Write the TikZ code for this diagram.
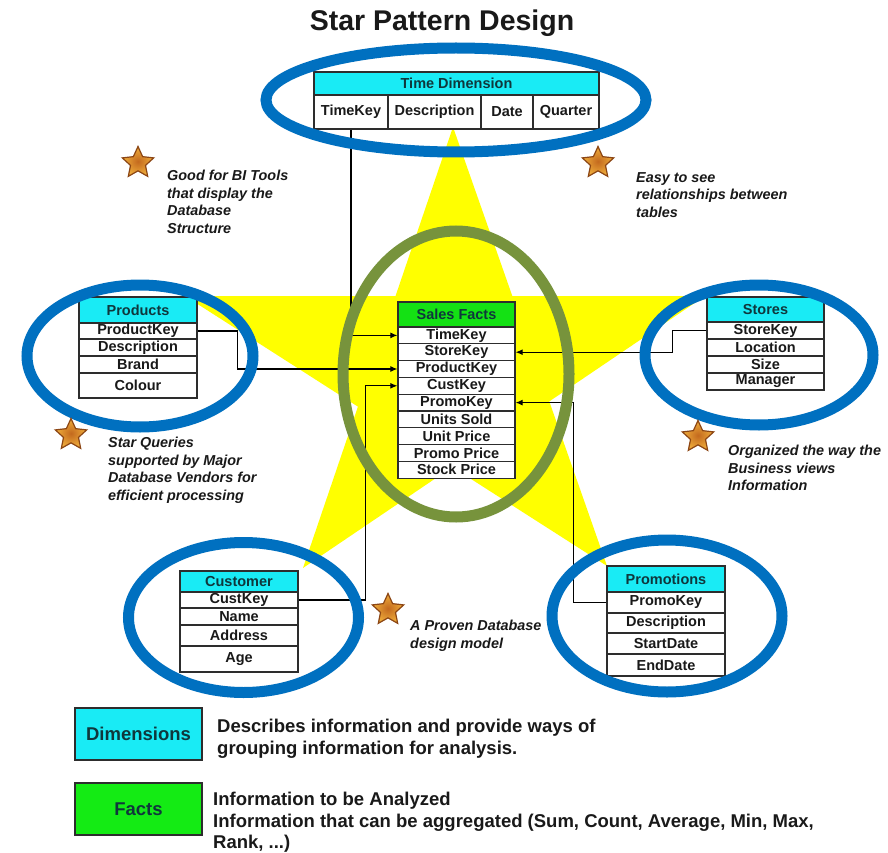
\documentclass[tikz,border=0pt]{standalone}
\usepackage{fontspec}
\setmainfont{Liberation Sans}
\usetikzlibrary{arrows.meta,shapes.geometric}
\definecolor{ringblue}{RGB}{0,112,192}
\definecolor{ringgreen}{RGB}{119,147,60}
\definecolor{dimcyan}{RGB}{25,235,245}
\definecolor{factgreen}{RGB}{20,225,20}
\definecolor{legendgreen}{RGB}{20,235,20}
\definecolor{staryellow}{RGB}{255,255,0}
\definecolor{tline}{RGB}{45,45,45}
\definecolor{ttext}{RGB}{25,25,25}
\definecolor{htext}{RGB}{15,55,60}
\definecolor{goldinner}{RGB}{195,105,30}
\definecolor{goldouter}{RGB}{240,175,60}
\definecolor{golddraw}{RGB}{140,70,20}
\begin{document}
\begin{tikzpicture}[x=1pt,y=-1pt,
  cell/.style={draw=tline, line width=1.3pt, fill=white, inner sep=0pt, font=\fontsize{14.5}{16}\selectfont\bfseries, text=ttext},
  dimhead/.style={cell, fill=dimcyan, text=htext},
  facthead/.style={cell, fill=factgreen, text=htext},
  conn/.style={draw=black, line width=1.1pt},
  arr/.style={conn, -{Latex[length=7pt,width=6pt]}},
  ring/.style={line width=11pt},
  note/.style={anchor=north west, align=left, inner sep=0pt, font=\fontsize{14.4}{17.6}\selectfont\bfseries\itshape, text=ttext},
  badge/.style={star, star points=5, star point ratio=2.1, minimum size=33pt, inner sep=0pt, inner color=goldinner, outer color=goldouter, draw=golddraw, line width=1.2pt},
  legendbox/.style={draw=tline, line width=1.8pt, minimum width=127pt, minimum height=52pt, inner sep=0pt, font=\fontsize{18.5}{20}\selectfont\bfseries, text=htext},
  legendtext/.style={anchor=north west, align=left, inner sep=0pt, font=\fontsize{18.5}{21.5}\selectfont\bfseries, text=ttext}
]
\fill[white] (0,0) rectangle (888,853);
\useasboundingbox (0,0) rectangle (888,853);

% big star
\coordinate (T) at (453,127);
\coordinate (L) at (185,296);
\coordinate (R) at (705,296);
\coordinate (BL) at (303,568);
\coordinate (BR) at (607,566);
\fill[staryellow] (T) -- (intersection of T--BR and L--R) -- (R)
  -- (intersection of R--BL and T--BR) -- (BR)
  -- (intersection of R--BL and L--BR) -- (BL)
  -- (intersection of T--BL and L--BR) -- (L)
  -- (intersection of T--BL and L--R) -- cycle;

% title
\node[font=\fontsize{28.5}{32}\selectfont\bfseries, anchor=base, text=ttext] (title) at (442,31) {Star Pattern Design};

% Time Dimension
\node[dimhead, minimum width=285pt, minimum height=23pt] (tdh) at (456.5,83.5) {Time Dimension};
\node[cell, minimum width=74pt, minimum height=34pt] (tdkey) at (351,112) {TimeKey};
\node[cell, minimum width=93pt, minimum height=34pt] (tddesc) at (434.5,112) {Description};
\node[cell, minimum width=52pt, minimum height=34pt] (tddate) at (507,112) {Date};
\node[cell, minimum width=66pt, minimum height=34pt] (tdq) at (566,112) {Quarter};

% Sales Facts
\node[facthead, minimum width=117pt, minimum height=25pt] (sfh) at (456.5,314.5) {Sales Facts};
\node[cell, minimum width=117pt, minimum height=16.8pt] (sftime) at (456.5,335.4) {TimeKey};
\node[cell, minimum width=117pt, minimum height=16.8pt] (sfstore) at (456.5,352.2) {StoreKey};
\node[cell, minimum width=117pt, minimum height=16.8pt] (sfprod) at (456.5,369.0) {ProductKey};
\node[cell, minimum width=117pt, minimum height=16.8pt] (sfcust) at (456.5,385.8) {CustKey};
\node[cell, minimum width=117pt, minimum height=16.8pt] (sfpromo) at (456.5,402.6) {PromoKey};
\node[cell, minimum width=117pt, minimum height=16.8pt] (sfunits) at (456.5,419.4) {Units Sold};
\node[cell, minimum width=117pt, minimum height=16.8pt] (sfuprice) at (456.5,436.2) {Unit Price};
\node[cell, minimum width=117pt, minimum height=16.8pt] (sfpprice) at (456.5,453.0) {Promo Price};
\node[cell, minimum width=117pt, minimum height=16.8pt] (sfsprice) at (456.5,469.8) {Stock Price};

% Products
\node[dimhead, minimum width=118pt, minimum height=26pt] (ph) at (138,310) {Products};
\node[cell, minimum width=118pt, minimum height=16pt] (pkey) at (138,331) {ProductKey};
\node[cell, minimum width=118pt, minimum height=17pt] (pdesc) at (138,347.5) {Description};
\node[cell, minimum width=118pt, minimum height=17pt] (pbrand) at (138,364.5) {Brand};
\node[cell, minimum width=118pt, minimum height=25pt] (pcol) at (138,385.5) {Colour};

% Stores
\node[dimhead, minimum width=117pt, minimum height=25pt] (sh) at (765.5,309.5) {Stores};
\node[cell, minimum width=117pt, minimum height=17pt] (stkey) at (765.5,330.5) {StoreKey};
\node[cell, minimum width=117pt, minimum height=17pt] (stloc) at (765.5,347.5) {Location};
\node[cell, minimum width=117pt, minimum height=17pt] (stsize) at (765.5,364.5) {Size};
\node[cell, minimum width=117pt, minimum height=17pt] (stman) at (765.5,381.5) {Manager};

% Customer
\node[dimhead, minimum width=118pt, minimum height=21pt] (ch) at (239,581.5) {Customer};
\node[cell, minimum width=118pt, minimum height=16pt] (ckey) at (239,600) {CustKey};
\node[cell, minimum width=118pt, minimum height=17pt] (cname) at (239,616.5) {Name};
\node[cell, minimum width=118pt, minimum height=21pt] (caddr) at (239,635.5) {Address};
\node[cell, minimum width=118pt, minimum height=26pt] (cage) at (239,659) {Age};

% Promotions
\node[dimhead, minimum width=118pt, minimum height=26pt] (prh) at (666,579) {Promotions};
\node[cell, minimum width=118pt, minimum height=21pt] (prkey) at (666,602.5) {PromoKey};
\node[cell, minimum width=118pt, minimum height=20pt] (prdesc) at (666,623) {Description};
\node[cell, minimum width=118pt, minimum height=21pt] (prstart) at (666,643.5) {StartDate};
\node[cell, minimum width=118pt, minimum height=22pt] (prend) at (666,665) {EndDate};

% connectors
\draw[arr] (tdkey.south) |- (sftime.west);
\draw[arr] (pkey.east) -- ++(40,0) |- (sfprod.west);
\draw[arr] (stkey.west) -- ++(-34,0) |- (sfstore.east);
\draw[arr] (ckey.east) -- ++(67,0) |- (sfcust.west);
\draw[arr] (prkey.west) -- ++(-33,0) |- (sfpromo.east);

% rings
\draw[ring, ringblue] (456,100) ellipse [x radius=190, y radius=52];
\draw[ring, ringblue] (140,356) ellipse [x radius=113, y radius=71];
\draw[ring, ringblue] (759,355) ellipse [x radius=114, y radius=70];
\draw[ring, ringblue] (243.5,617.5) ellipse [x radius=115, y radius=75];
\draw[ring, ringblue] (667,616) ellipse [x radius=115, y radius=76];
\draw[ring, ringgreen] (456,374) ellipse [x radius=113, y radius=143];

% badges and notes
\node[badge] (b1) at (138,163) {};
\node[badge] (b2) at (598,163) {};
\node[badge] (b3) at (71,435) {};
\node[badge] (b4) at (698,437) {};
\node[badge] (b5) at (388,610) {};
\node[note] (n1) at (167,170) {Good for BI Tools\\that display the\\Database\\Structure};
\node[note] (n2) at (636,172) {Easy to see\\relationships between\\tables};
\node[note] (n3) at (108,437) {Star Queries\\supported by Major\\Database Vendors for\\efficient processing};
\node[note] (n4) at (728,445) {Organized the way the\\Business views\\Information};
\node[note] (n5) at (410,620) {A Proven Database\\design model};

% legend
\node[legendbox, fill=dimcyan] (ldim) at (138.5,734) {Dimensions};
\node[legendbox, fill=legendgreen] (lfact) at (138.5,809) {Facts};
\node[legendtext] (ldimtxt) at (217,719) {Describes information and provide ways of\\grouping information for analysis.};
\node[legendtext] (lfacttxt) at (213,792) {Information to be Analyzed\\Information that can be aggregated (Sum, Count, Average, Min, Max,\\Rank, ...)};
\end{tikzpicture}
\end{document}
